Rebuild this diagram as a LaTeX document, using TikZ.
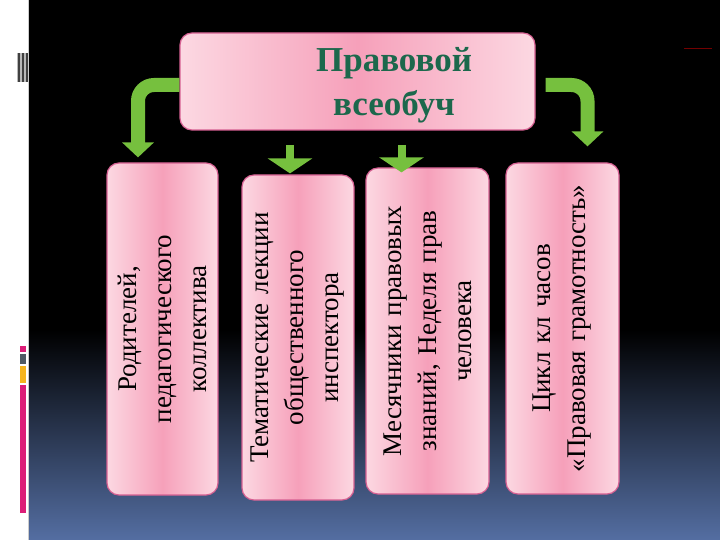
\documentclass[tikz,border=0pt]{standalone}
\usepackage{fontspec}
\setmainfont{Liberation Serif}
\usetikzlibrary{arrows.meta}
\definecolor{pinkedge}{RGB}{214,96,146}
\definecolor{pinklight}{RGB}{252,216,226}
\definecolor{pinkdark}{RGB}{246,160,186}
\definecolor{titlegreen}{RGB}{28,104,76}
\definecolor{arrowgreen}{RGB}{118,192,62}
\definecolor{bgblue}{RGB}{84,110,162}
\definecolor{barpink}{RGB}{220,30,120}
\definecolor{bargray}{RGB}{80,90,100}
\definecolor{baryellow}{RGB}{245,180,30}
\tikzstyle{topbox}=[draw=pinkedge,line width=1.2pt,rounded corners=12pt,left color=pinklight,right color=pinklight,middle color=pinkdark,minimum width=355pt,minimum height=97pt]
\tikzstyle{sidebox}=[draw=pinkedge,line width=1.2pt,rounded corners=12pt,left color=pinklight,right color=pinklight,middle color=pinkdark,rotate=90,align=center,text width=300pt,inner sep=0pt,font=\fontsize{27}{35}\selectfont]
\tikzstyle{titletext}=[font=\fontsize{35}{44}\selectfont\bfseries,text=titlegreen,align=center]
\tikzstyle{bigarrow}=[draw=arrowgreen,line width=14pt,rounded corners=16pt,-{Triangle[width=31pt,length=15pt]}]
\tikzstyle{smallarrow}=[draw=arrowgreen,line width=8pt,-{Triangle[width=44pt,length=15pt]}]

\begin{document}
\begin{tikzpicture}[x=1pt,y=-1pt]
    \useasboundingbox (0,0) rectangle (720,540);

    % background and left strip
    \fill[black] (28,0) rectangle (720,340);
    \shade[top color=black,bottom color=bgblue] (28,330) rectangle (720,540);
    \fill[white] (0,0) rectangle (28,540);
    \draw[gray!40] (28,0) -- (28,540);
    \fill[gray!55] (17,53) rectangle (28,82);
    \foreach \x in {17.5,21.5,25.5}
        \fill[black!75] (\x,53) rectangle +(2,29);
    \fill[barpink] (20,346) rectangle (26,352);
    \fill[bargray] (20,354) rectangle (26,364);
    \fill[baryellow] (20,366) rectangle (26,383);
    \fill[barpink] (20,385) rectangle (26,513);
    \draw[red!45!black,line width=1pt] (684,49) -- (712,49);

    \node[topbox] (vseobuch) at (357.5,81.5) {};
    \node[titletext] (titel) at (394,85) {Правовой\\всеобуч};

    % rotated boxes: their east anchor is the top on the page
    \foreach \pos/\w/\h/\name/\txt in {{(162.5,329)/332/111/roditeli/{Родителей,\\педагогического\\коллектива}},
        {(298,337.5)/325/112/lekcii/{Тематические лекции\\общественного\\инспектора}},
        {(427.5,331)/326/123/mesyachniki/{Месячники правовых\\знаний, Неделя прав\\человека}},
        {(562.5,328.5)/331/113/cikl/{Цикл кл часов\\«Правовая грамотность»}}}
        \node[sidebox,minimum width=\w pt,minimum height=\h pt] (\name) at \pos {\txt};

    \draw[bigarrow,shorten >=5pt] ([yshift=-3.5pt]vseobuch.west) -| ([xshift=-24.5pt]roditeli.east);
    \draw[bigarrow,shorten <=10pt,shorten >=16pt] ([yshift=-3.5pt]vseobuch.east) -| ([xshift=25pt]cikl.east);

    \coordinate (lekciistart) at (290,145);
    \coordinate (messtart) at (401.5,145);
    \draw[smallarrow] (lekciistart) -- ([xshift=-8pt,yshift=1pt]lekcii.east);
    \draw[smallarrow] (messtart) -- ([xshift=-26pt,yshift=-5pt]mesyachniki.east);

\end{tikzpicture}
\end{document}
